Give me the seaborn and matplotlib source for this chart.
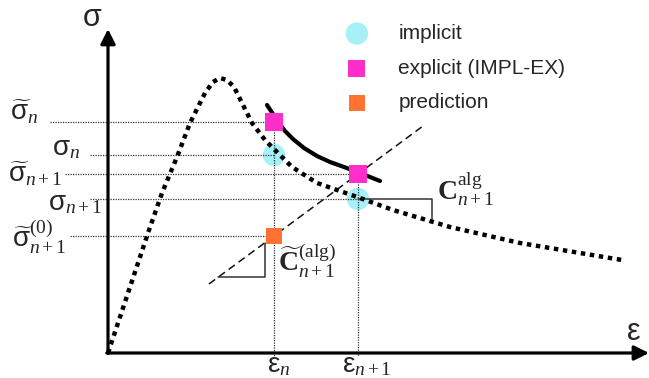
import matplotlib
matplotlib.use("Agg")
import matplotlib.pyplot as plt
import numpy as np
import pandas as pd
import seaborn as sns

# ---- schematic data (strain / stress in arbitrary units) ----
# softening stress-strain curve (dotted)
curve_eps = [0.00, 0.20, 0.40, 0.54, 0.69, 0.82, 0.97, 1.05, 1.12, 1.19, 1.26,
             1.34, 1.44, 1.57, 1.69, 1.84, 2.09, 2.52, 2.85, 3.42, 4.12, 5.14]
curve_sig = [0.00, 0.60, 1.20, 1.60, 1.96, 2.30, 2.60, 2.71, 2.75, 2.73, 2.66,
             2.50, 2.30, 2.13, 2.01, 1.86, 1.70, 1.55, 1.43, 1.26, 1.10, 0.93]

# explicit (IMPL-EX) extrapolated branch (solid)
expl_eps = [1.59, 1.65, 1.70, 1.77, 1.85, 1.96, 2.09, 2.22, 2.36, 2.52, 2.72]
expl_sig = [2.48, 2.39, 2.31, 2.22, 2.14, 2.05, 1.97, 1.91, 1.86, 1.80, 1.72]

# time steps
eps_n, eps_n1 = 1.66, 2.50
# stress levels
sig_tilde_n = 2.31
sig_n = 1.98
sig_tilde_n1 = 1.79
sig_n1 = 1.54
sig_pred = 1.17

kinds = ["implicit", "explicit (IMPL-EX)", "prediction"]
colors = {"implicit": "#a6f0f7", "explicit (IMPL-EX)": "#ff2ecb",
          "prediction": "#ff7231"}

# ---- style ----
sns.set_theme(style="white")
plt.rcParams["font.family"] = ["Liberation Sans", "DejaVu Sans"]
plt.rcParams["mathtext.fontset"] = "custom"
plt.rcParams["mathtext.rm"] = "Liberation Serif"
plt.rcParams["mathtext.it"] = "Liberation Serif:italic"
plt.rcParams["mathtext.bf"] = "Liberation Serif:bold"
plt.rcParams["mathtext.sf"] = "Liberation Sans"

fig = plt.figure(figsize=(6.49, 3.78), dpi=100)
ax = fig.add_axes([0, 0, 1, 1])
ax.set_xlim(-1.08, 5.41)
ax.set_ylim(-0.25, 3.53)
ax.axis("off")

ink = "#111111"
guide = dict(color="#333333", lw=0.9, linestyle=(0, (1, 1)), zorder=2)

# ---- coordinate axes with arrows ----
ax.annotate("", xy=(0, 3.24), xytext=(0, -0.005),
            arrowprops=dict(arrowstyle="-|>", lw=2.3, color="black",
                            mutation_scale=22, shrinkA=0, shrinkB=0))
ax.annotate("", xy=(5.41, 0), xytext=(-0.012, 0),
            arrowprops=dict(arrowstyle="-|>", lw=2.3, color="black",
                            mutation_scale=22, shrinkA=0, shrinkB=0))
ax.text(-0.16, 3.35, r"$\mathsf{σ}$", fontsize=22, ha="center", va="center")
ax.text(5.25, 0.21, r"$\mathsf{ε}$", fontsize=22, ha="center", va="center")

# ---- horizontal guide lines to the stress levels ----
h_levels = [sig_tilde_n, sig_n, sig_tilde_n1, sig_n1, sig_pred]
h_start = [-0.58, -0.18, -0.43, -0.18, -0.38]
h_end = [eps_n, eps_n, eps_n1, eps_n1, eps_n]
for lev, x0, x1 in zip(h_levels, h_start, h_end):
    ax.plot([x0, x1], [lev, lev], **guide)

# vertical guide lines at the strain steps
ax.plot([eps_n, eps_n], [sig_tilde_n, -0.03], **guide)
ax.plot([eps_n1, eps_n1], [sig_tilde_n1, -0.03], **guide)

# ---- implicit markers (behind curves) ----
impl = pd.DataFrame({"eps": [eps_n, eps_n1], "sig": [sig_n, sig_n1]})
sns.scatterplot(data=impl, x="eps", y="sig", ax=ax, marker="o", s=260,
                color=colors["implicit"], edgecolor="none", zorder=1,
                label=kinds[0])

# ---- curves ----
sns.lineplot(x=curve_eps, y=curve_sig, sort=False, estimator=None, ax=ax,
             color="black", lw=3.2, linestyle=(0, (1, 1.05)),
             dash_capstyle="butt", zorder=3)
sns.lineplot(x=expl_eps, y=expl_sig, sort=False, estimator=None, ax=ax,
             color="black", lw=3.0, zorder=3, solid_joinstyle="round")

# dashed algorithmic tangent through the prediction and the explicit point
slope = (sig_tilde_n1 - sig_pred) / (eps_n1 - eps_n)
dx = np.array([1.01, 3.17])
ax.plot(dx, sig_pred + slope * (dx - eps_n), color=ink, lw=1.1,
        linestyle=(0, (5, 3)), zorder=2)

# slope triangle of the predicted tangent
tx0, tx1 = 1.10, 1.57
ty0 = sig_pred + slope * (tx0 - eps_n)
ty1 = sig_pred + slope * (tx1 - eps_n)
ax.plot([tx0, tx1, tx1], [ty0, ty0, ty1], color="#333333", lw=1.1, zorder=2)

# tangent triangle of the converged curve
ax.plot([eps_n1, 3.24, 3.24], [sig_n1, sig_n1, 1.32], color="#333333",
        lw=1.1, zorder=2)

# ---- explicit and prediction markers (on top) ----
expl_pts = pd.DataFrame({"eps": [eps_n, eps_n1],
                         "sig": [sig_tilde_n, sig_tilde_n1]})
sns.scatterplot(data=expl_pts, x="eps", y="sig", ax=ax, marker="s", s=150,
                color=colors["explicit (IMPL-EX)"], edgecolor="none",
                zorder=5, label=kinds[1])
pred_pts = pd.DataFrame({"eps": [eps_n], "sig": [sig_pred]})
sns.scatterplot(data=pred_pts, x="eps", y="sig", ax=ax, marker="s", s=140,
                color=colors["prediction"], edgecolor="none", zorder=5,
                label=kinds[2])

# ---- labels ----
ax.text(-0.98, 2.33, r"$\widetilde{\mathsf{σ}}_{n}$", fontsize=20,
        ha="left", va="baseline")
ax.text(-0.56, 1.98, r"$\mathsf{σ}_{n}$", fontsize=20, ha="left",
        va="baseline")
ax.text(-1.00, 1.71, r"$\widetilde{\mathsf{σ}}_{n+1}$", fontsize=20,
        ha="left", va="baseline")
ax.text(-0.60, 1.43, r"$\mathsf{σ}_{n+1}$", fontsize=20, ha="left",
        va="baseline")
ax.text(-0.96, 1.05, r"$\widetilde{\mathsf{σ}}^{(0)}_{n+1}$", fontsize=20,
        ha="left", va="baseline")

ax.text(1.59, -0.19, r"$\mathsf{ε}_{n}$", fontsize=20, ha="left",
        va="baseline")
ax.text(2.34, -0.19, r"$\mathsf{ε}_{n+1}$", fontsize=20, ha="left",
        va="baseline")

ax.text(3.29, 1.53, r"$\mathbf{C}^{\mathrm{alg}}_{n+1}$", fontsize=20,
        ha="left", va="baseline")
ax.text(1.70, 0.81, r"$\widetilde{\mathbf{C}}^{(\mathrm{alg})}_{n+1}$",
        fontsize=20, ha="left", va="baseline")

# ---- legend ----
ax.legend(loc="upper left", bbox_to_anchor=(336 / 649, 1 - 24 / 378),
          frameon=False, fontsize=15, borderpad=0, borderaxespad=0,
          handlelength=2.0, handletextpad=1.0, labelspacing=0.75)

fig.savefig("out.png", dpi=100)
